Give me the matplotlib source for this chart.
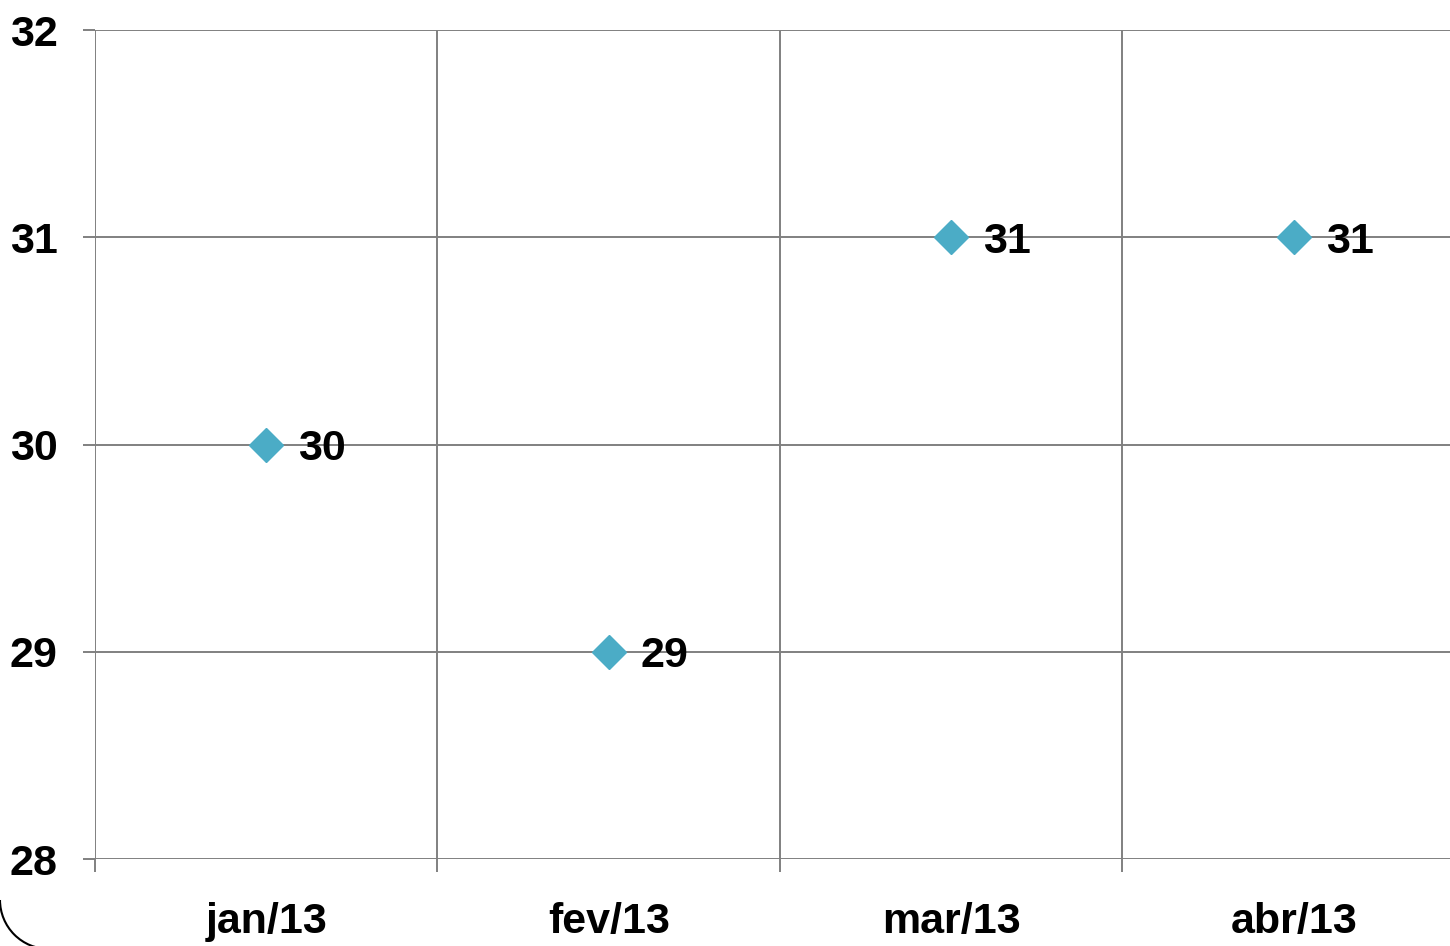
import matplotlib
matplotlib.use("Agg")
import matplotlib.pyplot as plt
from matplotlib.patches import Arc
from matplotlib.transforms import IdentityTransform

months = ["jan/13", "fev/13", "mar/13", "abr/13"]
values = [30, 29, 31, 31]
y_ticks = [28, 29, 30, 31, 32]

plt.rcParams['font.family'] = ['Liberation Sans', 'DejaVu Sans']
FS = 31

fig = plt.figure(figsize=(14.5, 9.46), dpi=100)
# right edge of the plot area runs slightly past the picture
ax = fig.add_axes([95 / 1450, 87 / 946, 1370 / 1450, 829 / 946])

x = [i + 0.5 for i in range(len(months))]
ax.plot(x, values, linestyle='none', marker='D', markersize=17,
        color='#4BACC6', zorder=3)
for xi, v in zip(x, values):
    ax.annotate(f"{v}", (xi, v), xytext=(23, 0), textcoords='offset points',
                ha='left', va='center_baseline', fontsize=FS, fontweight='bold',
                color='black', zorder=4)

ax.set_xlim(0, len(months))
ax.set_ylim(28, 32)
ax.set_yticks(y_ticks)
ax.set_yticklabels([str(t) for t in y_ticks], fontsize=FS, fontweight='bold')

ax.set_xticks(range(len(months) + 1))
ax.set_xticklabels([])
ax.set_xticks(x, minor=True)
ax.set_xticklabels(months, minor=True, fontsize=FS, fontweight='bold')
ax.tick_params(axis='x', which='minor', length=0, pad=31)
ax.tick_params(axis='x', which='major', length=9, width=1.4, color='#808080')
ax.tick_params(axis='y', length=9, width=1.4, color='#808080', pad=18)

ax.grid(True, which='major', color='#808080', linewidth=1.4)
ax.set_axisbelow(True)
for side in ['top', 'right', 'bottom', 'left']:
    ax.spines[side].set_visible(False)

# rounded outer border corner visible at bottom left
fig.add_artist(Arc((49, 46), 98, 98, theta1=180, theta2=270,
                   transform=IdentityTransform(), color='black', linewidth=1.5))

plt.savefig('out.png', dpi=100)
